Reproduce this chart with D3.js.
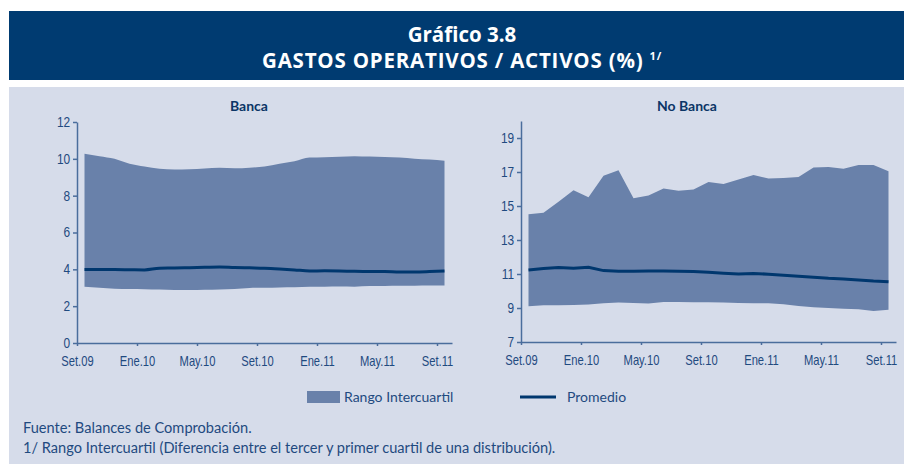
<!DOCTYPE html>
<html>
<head>
<meta charset="utf-8">
<script src="https://cdn.jsdelivr.net/npm/d3@7"></script>
<style>
  body { margin: 0; background: #fff; }
  svg { display: block; }
  .tick text { font-family: "Liberation Sans", sans-serif; font-size: 14px; fill: #1f4a80; }
</style>
</head>
<body>
<svg id="chart" width="904" height="464"></svg>
<script>
(function () {

    // months Set.09 .. Set.11 (25 monthly points)
    var months = ["Set.09","Oct.09","Nov.09","Dic.09","Ene.10","Feb.10","Mar.10","Abr.10","May.10","Jun.10","Jul.10","Ago.10",
                  "Set.10","Oct.10","Nov.10","Dic.10","Ene.11","Feb.11","Mar.11","Abr.11","May.11","Jun.11","Jul.11","Ago.11","Set.11"];
    var tickMonths = ["Set.09","Ene.10","May.10","Set.10","Ene.11","May.11","Set.11"];

    var bancaP75 = [10.27,10.14,10.0,9.73,9.58,9.46,9.42,9.43,9.47,9.51,9.49,9.52,9.58,9.73,9.87,10.07,10.09,10.11,10.14,10.12,10.1,10.07,10.01,9.96,9.9];
    var bancaP25 = [3.06,3.0,2.95,2.93,2.92,2.9,2.88,2.88,2.89,2.91,2.93,2.99,3.0,3.02,3.03,3.06,3.06,3.07,3.06,3.09,3.1,3.11,3.11,3.12,3.12];
    var bancaMean = [3.99,3.99,3.99,3.98,3.97,4.06,4.07,4.09,4.11,4.13,4.1,4.08,4.06,4.02,3.97,3.91,3.92,3.91,3.89,3.88,3.88,3.86,3.86,3.88,3.91];

    var noBancaP75 = [14.52,14.6,15.25,15.92,15.52,16.78,17.11,15.46,15.62,16.03,15.9,15.97,16.41,16.29,16.56,16.82,16.62,16.64,16.7,17.27,17.29,17.19,17.41,17.41,17.05];
    var noBancaP25 = [9.1,9.16,9.16,9.18,9.2,9.28,9.32,9.3,9.26,9.36,9.36,9.34,9.34,9.32,9.3,9.28,9.28,9.22,9.12,9.04,9.0,8.96,8.92,8.82,8.9];
    var noBancaMean = [11.24,11.32,11.38,11.34,11.4,11.2,11.16,11.16,11.18,11.18,11.16,11.14,11.1,11.05,11.0,11.03,10.99,10.93,10.87,10.81,10.75,10.71,10.65,10.59,10.55];

    var bandColor = "#6981aa",
        lineColor = "#00376e",
        axisColor = "#4a6d9c",
        textColor = "#1f4a80";

    var svg = d3.select("#chart");

    // header
    svg.append("rect").attr("x", 9).attr("y", 11).attr("width", 895).attr("height", 69).attr("fill", "#003b71");
    svg.append("rect").attr("x", 9).attr("y", 87).attr("width", 895).attr("height", 377).attr("fill", "#d6dcea");

    svg.append("text")
        .attr("x", 462).attr("y", 42)
        .attr("text-anchor", "middle")
        .style("font-family", "'Open Sans', sans-serif").style("font-weight", "bold").style("font-size", "20.5px")
        .attr("fill", "#fff")
        .text("Gráfico 3.8");

    var t2 = svg.append("text")
        .attr("x", 462).attr("y", 68)
        .attr("text-anchor", "middle")
        .style("font-family", "'Open Sans', sans-serif").style("font-weight", "bold").style("font-size", "20.5px")
        .style("letter-spacing", "0.8px")
        .attr("fill", "#fff");
    t2.append("tspan").text("GASTOS OPERATIVOS / ACTIVOS (%) ");
    t2.append("tspan").attr("dy", -8).style("font-size", "11px").text("1/");

    function panel(opts) {
        var x = d3.scaleLinear().domain([0, months.length]).range([opts.x0, opts.x0 + 15 * months.length]);
        var y = d3.scaleLinear().domain(opts.yDomain).range([opts.y0, opts.y1]);
        var g = svg.append("g");

        var area = d3.area()
            .x(function (d, i) { return x(i + 0.5); })
            .y0(function (d, i) { return y(opts.p25[i]); })
            .y1(function (d) { return y(d); })
            .curve(opts.curve);

        var line = d3.line()
            .x(function (d, i) { return x(i + 0.5); })
            .y(function (d) { return y(d); })
            .curve(opts.curve);

        g.append("path").datum(opts.p75).attr("d", area).attr("fill", bandColor);
        g.append("path").datum(opts.mean).attr("d", line)
            .attr("fill", "none").attr("stroke", lineColor).attr("stroke-width", 3);

        var xAxis = g.append("g")
            .attr("transform", "translate(0," + opts.y0 + ")")
            .call(d3.axisBottom(x)
                .tickValues(tickMonths.map(function (m) { return months.indexOf(m); }))
                .tickFormat(function (i) { return months[i]; })
                .tickSize(3).tickSizeOuter(0).tickPadding(10));

        var yAxis = g.append("g")
            .attr("transform", "translate(" + opts.x0 + ",0)")
            .call(d3.axisLeft(y)
                .tickValues(opts.yTicks)
                .tickSize(4).tickSizeOuter(0).tickPadding(4));

        [xAxis, yAxis].forEach(function (a) {
            a.select(".domain").attr("stroke", axisColor).attr("stroke-width", 1.5);
            a.selectAll(".tick line").attr("stroke", axisColor).attr("stroke-width", 1.5);
        });
        // condensed look for tick labels
        xAxis.selectAll(".tick text").attr("transform", "scale(0.8,1)");
        yAxis.selectAll(".tick text").attr("transform", "scale(0.85,1)");

        svg.append("text")
            .attr("x", opts.titleX).attr("y", 111)
            .attr("text-anchor", "middle")
            .style("font-family", "Lato, sans-serif").style("font-weight", "bold").style("font-size", "14px")
            .attr("fill", "#0b3566")
            .text(opts.title);
    }

    panel({
        title: "Banca", titleX: 249,
        x0: 77, y0: 343, y1: 122,
        yDomain: [0, 12], yTicks: [0, 2, 4, 6, 8, 10, 12],
        p75: bancaP75, p25: bancaP25, mean: bancaMean,
        curve: d3.curveMonotoneX
    });

    panel({
        title: "No Banca", titleX: 687,
        x0: 521, y0: 342, y1: 121,
        yDomain: [7, 20], yTicks: [7, 9, 11, 13, 15, 17, 19],
        p75: noBancaP75, p25: noBancaP25, mean: noBancaMean,
        curve: d3.curveLinear
    });

    // legend
    var font = "Lato, sans-serif";
    svg.append("rect").attr("x", 307).attr("y", 391).attr("width", 33).attr("height", 12).attr("fill", bandColor);
    svg.append("text").attr("x", 344).attr("y", 402)
        .style("font-family", font).style("font-size", "14px").attr("fill", textColor)
        .text("Rango Intercuartil");
    svg.append("line").attr("x1", 520).attr("x2", 556).attr("y1", 397).attr("y2", 397)
        .attr("stroke", lineColor).attr("stroke-width", 3);
    svg.append("text").attr("x", 567).attr("y", 402)
        .style("font-family", font).style("font-size", "14px").attr("fill", textColor)
        .text("Promedio");

    // notes
    svg.append("text").attr("x", 23).attr("y", 433)
        .style("font-family", font).style("font-size", "14.6px").attr("fill", textColor)
        .text("Fuente: Balances de Comprobación.");
    svg.append("text").attr("x", 23).attr("y", 453)
        .style("font-family", font).style("font-size", "14.6px").attr("fill", textColor)
        .text("1/ Rango Intercuartil (Diferencia entre el tercer y primer cuartil de una distribución).");

}());
</script>
</body>
</html>
